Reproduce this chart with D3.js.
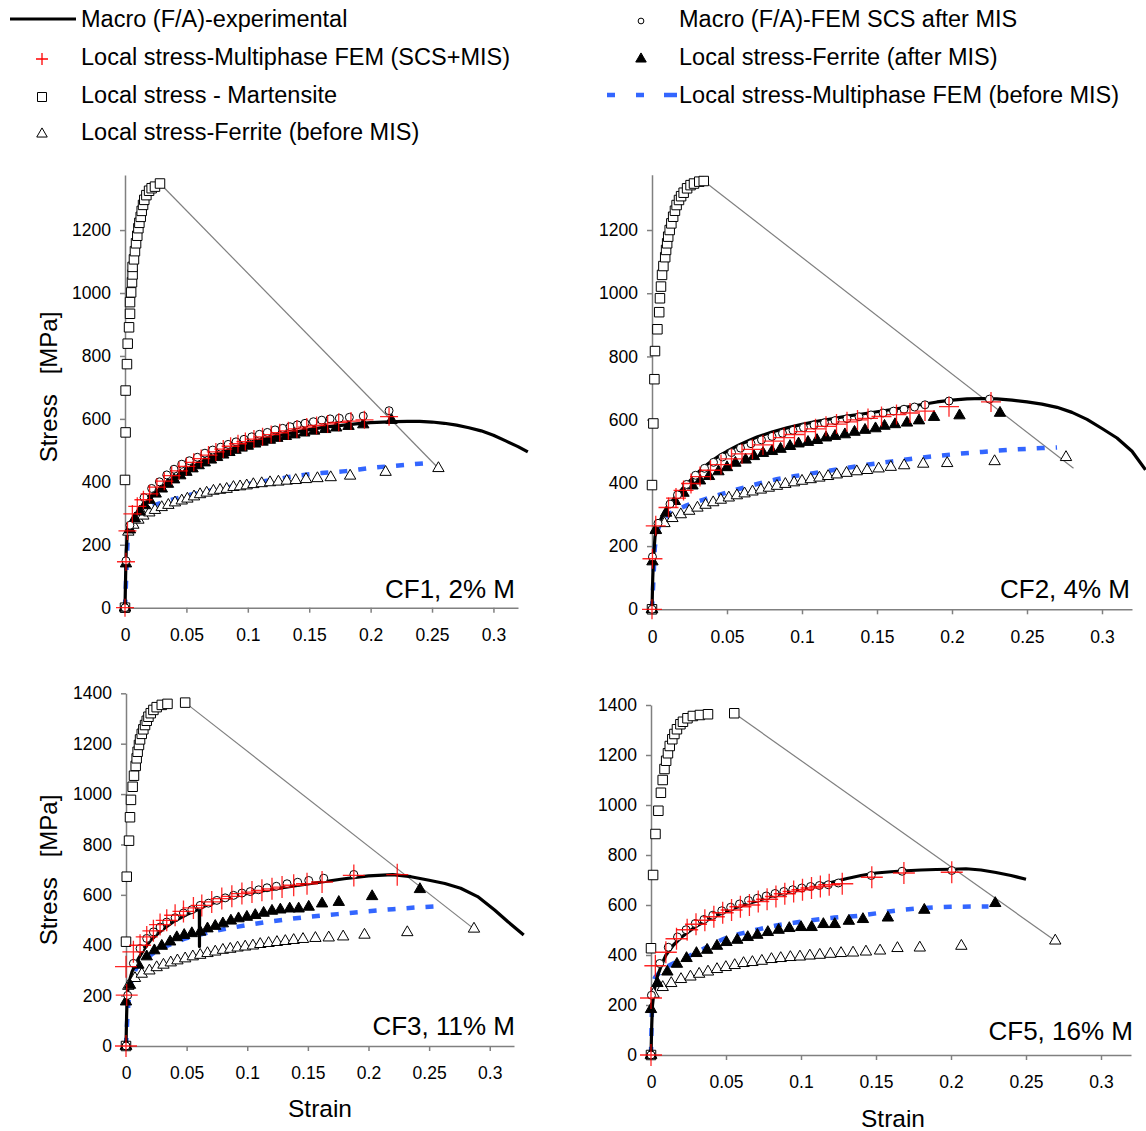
<!DOCTYPE html>
<html><head><meta charset="utf-8">
<script src="https://cdn.jsdelivr.net/npm/d3@7"></script>
<style>
body{margin:0;background:#fff}
svg{display:block}
text{font-family:"Liberation Sans",Arial,Helvetica,sans-serif;fill:#000}
</style>
</head><body>
<svg id="chart" width="1146" height="1131"></svg>
<script>
// ---------------- DATA ----------------
const panelTitles = ["CF1, 2% M", "CF2, 4% M", "CF3, 11% M", "CF5, 16% M"];
const seriesNames = [
  "Macro (F/A)-experimental",
  "Local stress-Multiphase FEM (SCS+MIS)",
  "Local stress - Martensite",
  "Local stress-Ferrite (before MIS)",
  "Macro (F/A)-FEM SCS after MIS",
  "Local stress-Ferrite (after MIS)",
  "Local stress-Multiphase FEM (before MIS)"
];
const xTickValues = [0, 0.05, 0.1, 0.15, 0.2, 0.25, 0.3];
const xTickLabels = ["0", "0.05", "0.1", "0.15", "0.2", "0.25", "0.3"];
const yTicksTop = [0, 200, 400, 600, 800, 1000, 1200];
const yTicksBottom = [0, 200, 400, 600, 800, 1000, 1200, 1400];
const xAxisTitle = "Strain";
const yAxisTitle = "Stress   [MPa]";

// ---- CF1 ----
const cf1Exp = [[0,0],[0.0005,100],[0.001,180],[0.002,240],[0.004,265],[0.008,290],[0.012,312],[0.016,330],[0.02,347],[0.03,382],[0.04,412],[0.05,437],[0.06,458],[0.07,477],[0.08,494],[0.09,508],[0.1,521],[0.11,532],[0.12,542],[0.13,551],[0.14,559],[0.15,566],[0.16,572],[0.17,577],[0.18,581],[0.19,585],[0.2,588],[0.21,590],[0.22,591],[0.23,592],[0.24,592],[0.25,590],[0.26,586],[0.27,580],[0.28,572],[0.29,562],[0.3,548],[0.31,530],[0.32,512],[0.328,495]];
const cf1Fem = [[0,0],[0.0008,149],[0.004,262],[0.0155,350],[0.0217,379],[0.028,400],[0.034,422],[0.0399,440],[0.0462,456],[0.0524,467],[0.0589,478],[0.0651,491],[0.0714,501],[0.0779,510],[0.084,519],[0.0904,527],[0.0969,535],[0.1032,543],[0.1094,551],[0.1159,557],[0.1222,565],[0.1284,570],[0.1344,575],[0.1403,581],[0.1466,586],[0.1534,591],[0.1602,596],[0.167,600],[0.1745,602],[0.1827,605],[0.194,609],[0.215,626]];
const cf1Multi = [[0,0],[0.0008,146],[0.002,244],[0.006,298],[0.01,322],[0.015,343],[0.02,362],[0.026,383],[0.032,402],[0.038,420],[0.044,435],[0.05,449],[0.056,462],[0.062,474],[0.068,485],[0.074,495],[0.08,504],[0.086,513],[0.092,521],[0.098,528],[0.105,536],[0.112,543],[0.119,550],[0.126,556],[0.133,562],[0.14,568],[0.148,574],[0.156,579],[0.165,584],[0.174,589],[0.184,593],[0.195,597],[0.215,607]];
const cf1Mart = [[0,0],[0,406],[0.0005,557],[0.0005,690],[0.0016,774],[0.0022,839],[0.0033,891],[0.0041,934],[0.0041,971],[0.005,1002],[0.0057,1034],[0.0062,1059],[0.0062,1083],[0.0073,1107],[0.0081,1133],[0.009,1158],[0.01,1182],[0.0109,1206],[0.0117,1223],[0.0128,1242],[0.0136,1261],[0.0147,1280],[0.0157,1296],[0.0174,1311],[0.0196,1325],[0.0217,1333],[0.0244,1338],[0.0285,1348]];
const cf1FerBefore = [[0,0],[0.0027,241],[0.0068,263],[0.0109,279],[0.0149,292],[0.0198,302],[0.0244,310],[0.0299,319],[0.0353,326],[0.0407,334],[0.0462,340],[0.0508,346],[0.0562,353],[0.0611,360],[0.0665,365],[0.072,371],[0.0774,374],[0.0828,377],[0.0883,383],[0.0937,385],[0.0991,388],[0.1045,392],[0.1113,395],[0.1181,398],[0.1249,400],[0.1317,403],[0.139,405],[0.1474,408],[0.1567,411],[0.1675,414],[0.1833,419],[0.2122,431],[0.2552,443]];
const cf1FerAfter = [[0,0],[0.0008,140],[0.004,248],[0.008,283],[0.012,305],[0.016,325],[0.02,342],[0.025,362],[0.03,378],[0.035,393],[0.04,407],[0.045,420],[0.05,431],[0.055,442],[0.06,452],[0.065,461],[0.07,470],[0.075,478],[0.08,486],[0.085,494],[0.09,501],[0.095,508],[0.1,514],[0.106,521],[0.112,527],[0.118,533],[0.124,539],[0.131,545],[0.138,550],[0.146,556],[0.154,562],[0.163,567],[0.172,572],[0.182,577],[0.194,582],[0.217,596]];
const cf1MultiBefore = [[0,0],[0.001,100],[0.002,200],[0.004,260],[0.008,290],[0.015,310],[0.025,327],[0.04,345],[0.06,365],[0.08,380],[0.1,393],[0.12,406],[0.14,419],[0.16,428],[0.18,434],[0.2,444],[0.22,451],[0.25,461]];
const cf1Link = [[0.0285,1348],[0.2552,443]];

// ---- CF2 ----
const cf2Exp = [[0,0],[0.0005,100],[0.001,160],[0.002,230],[0.004,268],[0.008,305],[0.012,333],[0.016,358],[0.02,380],[0.025,405],[0.03,430],[0.035,452],[0.04,470],[0.045,486],[0.05,500],[0.058,520],[0.065,535],[0.07,545],[0.08,561],[0.09,574],[0.1,585],[0.11,595],[0.12,603],[0.13,611],[0.14,618],[0.15,625],[0.16,632],[0.17,640],[0.18,648],[0.19,656],[0.2,662],[0.21,666],[0.22,667],[0.23,666],[0.24,662],[0.25,656],[0.26,649],[0.27,639],[0.28,623],[0.29,601],[0.3,572],[0.31,542],[0.32,500],[0.329,441]];
const cf2Fem = [[0,0],[0.0003,166],[0.004,272],[0.012,333],[0.017,362],[0.023,395],[0.029,424],[0.035,446],[0.041,465],[0.047,482],[0.053,496],[0.059,510],[0.066,524],[0.073,536],[0.08,547],[0.087,557],[0.094,566],[0.101,575],[0.108,583],[0.115,590],[0.122,597],[0.13,603],[0.138,609],[0.146,615],[0.154,621],[0.161,627],[0.168,633],[0.175,640],[0.182,647],[0.198,659],[0.225,665]];
const cf2Multi = [[0,0],[0.0003,160],[0.0025,264],[0.011,322],[0.016,352],[0.021,376],[0.026,398],[0.032,420],[0.039,440],[0.046,458],[0.053,476],[0.06,492],[0.067,506],[0.074,520],[0.081,532],[0.088,543],[0.095,553],[0.102,562],[0.109,571],[0.116,579],[0.123,586],[0.13,593],[0.137,599],[0.144,604],[0.153,610],[0.163,616],[0.172,621],[0.182,627],[0.198,641],[0.226,656]];
const cf2Mart = [[0,0],[0,393],[0.0009,588],[0.0016,728],[0.002,817],[0.0036,886],[0.0048,940],[0.0053,984],[0.006,1021],[0.0067,1058],[0.0076,1086],[0.0088,1114],[0.0094,1137],[0.0101,1158],[0.0108,1179],[0.0118,1200],[0.0129,1221],[0.0141,1242],[0.0153,1261],[0.0164,1279],[0.018,1295],[0.0194,1307],[0.0211,1318],[0.0234,1332],[0.0257,1342],[0.028,1347],[0.0315,1353],[0.0345,1355]];
const cf2FerBefore = [[0,0],[0.0025,251],[0.0083,272],[0.0136,288],[0.0192,300],[0.0248,311],[0.0303,321],[0.0357,330],[0.0408,338],[0.0459,346],[0.0512,353],[0.0566,360],[0.0617,366],[0.067,372],[0.0726,378],[0.0779,384],[0.0833,390],[0.0889,396],[0.0947,401],[0.1,406],[0.1058,411],[0.1116,416],[0.1174,421],[0.1232,426],[0.1297,431],[0.1365,436],[0.1434,440],[0.1511,445],[0.1592,450],[0.1681,455],[0.1808,460],[0.1968,462],[0.2284,468],[0.276,481]];
const cf2FerAfter = [[0,0],[0.0003,151],[0.0025,250],[0.0094,305],[0.0153,342],[0.021,368],[0.027,391],[0.032,407],[0.038,421],[0.0443,436],[0.05,449],[0.0556,463],[0.0624,473],[0.068,484],[0.074,494],[0.08,500],[0.0857,507],[0.092,516],[0.0977,524],[0.104,529],[0.11,535],[0.116,543],[0.122,548],[0.1286,553],[0.135,561],[0.142,567],[0.149,572],[0.155,580],[0.162,585],[0.17,590],[0.178,597],[0.188,608],[0.205,613],[0.232,621]];
const cf2MultiBefore = [[0,0],[0.001,100],[0.002,200],[0.005,265],[0.01,295],[0.02,322],[0.035,348],[0.05,370],[0.065,390],[0.08,408],[0.1,425],[0.12,440],[0.14,455],[0.16,468],[0.18,480],[0.2,490],[0.22,498],[0.24,505],[0.26,510],[0.27,512]];
const cf2Link = [[0.0345,1355],[0.281,446]];

// ---- CF3 ----
const cf3Exp = [[0,0],[0.0005,120],[0.001,200],[0.002,245],[0.005,295],[0.01,345],[0.015,385],[0.02,418],[0.03,462],[0.04,496],[0.05,522],[0.06,543],[0.0605,546],[0.0606,395],[0.0607,548],[0.07,565],[0.08,580],[0.09,594],[0.1,606],[0.12,622],[0.14,636],[0.16,650],[0.18,664],[0.2,675],[0.22,680],[0.235,672],[0.25,658],[0.263,645],[0.276,626],[0.29,593],[0.304,540],[0.315,493],[0.328,441]];
const cf3Fem = [[0,0],[0.0014,201],[0.0061,328],[0.0116,387],[0.0171,427],[0.0226,453],[0.0281,472],[0.0336,492],[0.0405,509],[0.0474,528],[0.0543,541],[0.0612,558],[0.068,567],[0.0749,578],[0.0818,588],[0.0887,598],[0.0956,607],[0.1025,613],[0.1094,620],[0.1163,628],[0.124,634],[0.1328,644],[0.1416,650],[0.1507,657],[0.1631,666],[0.1879,681]];
const cf3Multi = [[0,0],[0.0006,202],[0,315],[0.0061,374],[0.0116,400],[0.0171,433],[0.0226,457],[0.0281,482],[0.0336,499],[0.0405,519],[0.0474,534],[0.0556,548],[0.0625,558],[0.0707,572],[0.079,585],[0.0873,594],[0.0956,605],[0.1039,611],[0.1121,618],[0.1204,624],[0.1287,631],[0.1383,638],[0.1493,644],[0.1617,651],[0.1879,677],[0.2237,680]];
const cf3Mart = [[0,0],[0,414],[0.0006,672],[0.0025,815],[0.0033,908],[0.0041,977],[0.0055,1029],[0.0066,1073],[0.008,1112],[0.0088,1142],[0.0096,1168],[0.0107,1195],[0.0116,1217],[0.013,1239],[0.0143,1257],[0.0157,1274],[0.0171,1291],[0.0185,1307],[0.0204,1321],[0.0226,1334],[0.0253,1345],[0.0295,1354],[0.0342,1358],[0.0488,1363]];
const cf3FerBefore = [[0,0],[0.0019,238],[0.0074,269],[0.013,286],[0.0193,299],[0.0253,312],[0.0309,322],[0.0369,331],[0.0424,339],[0.0488,347],[0.0551,355],[0.0612,361],[0.0672,368],[0.0736,374],[0.0799,381],[0.086,385],[0.092,390],[0.0983,394],[0.1047,398],[0.1107,404],[0.1176,408],[0.1245,412],[0.1314,416],[0.1383,420],[0.146,424],[0.1562,428],[0.1672,430],[0.1791,434],[0.1967,441],[0.232,451],[0.287,465]];
const cf3FerAfter = [[0,0],[0,176],[0.0033,242],[0.0102,322],[0.0171,355],[0.0234,379],[0.0295,397],[0.0364,414],[0.0419,431],[0.048,440],[0.0543,447],[0.0612,453],[0.0672,466],[0.0736,476],[0.0799,486],[0.0865,497],[0.0928,506],[0.0997,512],[0.1066,519],[0.1135,528],[0.1204,536],[0.1273,541],[0.135,545],[0.1424,545],[0.1507,552],[0.1617,565],[0.1755,571],[0.203,594],[0.2424,622]];
const cf3MultiBefore = [[0,0],[0.001,100],[0.003,220],[0.006,280],[0.01,320],[0.02,360],[0.03,390],[0.04,410],[0.05,428],[0.065,447],[0.08,463],[0.1,480],[0.12,495],[0.14,507],[0.16,517],[0.18,526],[0.2,535],[0.22,543],[0.24,550],[0.26,556]];
const cf3Link = [[0.0488,1363],[0.287,465]];

// ---- CF5 ----
const cf5Exp = [[0,0],[0.0005,120],[0.001,200],[0.002,255],[0.004,310],[0.007,360],[0.01,400],[0.015,440],[0.02,470],[0.03,515],[0.04,548],[0.05,575],[0.06,597],[0.07,615],[0.08,635],[0.09,650],[0.1,665],[0.11,678],[0.12,690],[0.13,705],[0.14,718],[0.15,728],[0.16,733],[0.17,737],[0.18,740],[0.19,742],[0.2,743],[0.21,745],[0.22,740],[0.23,730],[0.24,718],[0.25,703]];
const cf5Fem = [[0,0],[0.0003,239],[0.0058,366],[0.0115,431],[0.0177,472],[0.0234,501],[0.0295,526],[0.0353,542],[0.0412,559],[0.0472,577],[0.0531,591],[0.059,604],[0.065,618],[0.0709,627],[0.0768,636],[0.0827,646],[0.0886,654],[0.0945,661],[0.1005,668],[0.1064,674],[0.1123,678],[0.1182,681],[0.1249,688],[0.1468,718],[0.1674,735],[0.2005,738]];
const cf5Multi = [[0,0],[0,228],[0.0029,357],[0.0099,411],[0.017,465],[0.0241,501],[0.03,523],[0.0359,539],[0.0419,553],[0.0478,569],[0.0537,580],[0.0596,593],[0.0656,600],[0.0715,614],[0.0774,623],[0.0833,634],[0.0892,645],[0.0951,654],[0.101,661],[0.107,668],[0.1129,674],[0.1188,681],[0.1275,685],[0.1472,711],[0.1686,728],[0.2005,731]];
const cf5Mart = [[0,0],[0,427],[0.0014,720],[0.003,884],[0.0049,977],[0.0066,1049],[0.0078,1100],[0.009,1144],[0.0101,1177],[0.0113,1207],[0.0125,1236],[0.0142,1263],[0.0156,1284],[0.0173,1303],[0.0196,1323],[0.0213,1333],[0.0243,1347],[0.0279,1356],[0.0326,1360],[0.038,1363],[0.0555,1367]];
const cf5FerBefore = [[0,0],[0.0017,244],[0.0078,271],[0.0135,287],[0.02,303],[0.0263,313],[0.0321,324],[0.038,333],[0.044,343],[0.0499,351],[0.0558,359],[0.0617,367],[0.0676,371],[0.0739,376],[0.0803,383],[0.0865,387],[0.0929,391],[0.0993,393],[0.1059,397],[0.1125,400],[0.1196,404],[0.1267,407],[0.1347,409],[0.1433,413],[0.1527,417],[0.1643,427],[0.1792,429],[0.2069,436],[0.2695,457]];
const cf5FerAfter = [[0,0],[0,183],[0.0043,287],[0.0109,333],[0.0173,364],[0.0237,387],[0.0303,407],[0.0374,420],[0.044,436],[0.0503,451],[0.0575,460],[0.0645,471],[0.0709,480],[0.0779,491],[0.0851,500],[0.0922,507],[0.1,511],[0.1071,511],[0.1149,523],[0.1225,523],[0.1319,536],[0.1413,543],[0.1579,549],[0.1822,580],[0.2295,607]];
const cf5MultiBefore = [[0,0],[0.0005,150],[0.001,250],[0.002,300],[0.005,325],[0.01,350],[0.02,380],[0.03,410],[0.04,440],[0.05,468],[0.065,493],[0.08,514],[0.1,533],[0.12,548],[0.14,558],[0.16,575],[0.18,587],[0.2,593],[0.225,594]];
const cf5Link = [[0.0555,1367],[0.2695,457]];

// ---------------- LAYOUT ----------------
const svg = d3.select("#chart");
const panels = [
  {title: panelTitles[0], data: [cf1Exp, cf1Fem, cf1Multi, cf1Mart, cf1FerBefore, cf1FerAfter, cf1MultiBefore, cf1Link],
   xr: [125, 518], yr: [607.7, 175], yMax: 1375, yTicks: yTicksTop, plus: 9,
   titlePos: [515, 598], yTitle: 387, xTitle: null},
  {title: panelTitles[1], data: [cf2Exp, cf2Fem, cf2Multi, cf2Mart, cf2FerBefore, cf2FerAfter, cf2MultiBefore, cf2Link],
   xr: [652, 1132], yr: [609.3, 174.7], yMax: 1375, yTicks: yTicksTop, plus: 10,
   titlePos: [1130, 598], yTitle: null, xTitle: null},
  {title: panelTitles[2], data: [cf3Exp, cf3Fem, cf3Multi, cf3Mart, cf3FerBefore, cf3FerAfter, cf3MultiBefore, cf3Link],
   xr: [126, 514], yr: [1046, 693.3], yMax: 1400, yTicks: yTicksBottom, plus: 11,
   titlePos: [515, 1035], yTitle: 870, xTitle: [320, 1117]},
  {title: panelTitles[3], data: [cf5Exp, cf5Fem, cf5Multi, cf5Mart, cf5FerBefore, cf5FerAfter, cf5MultiBefore, cf5Link],
   xr: [651, 1131], yr: [1055, 705], yMax: 1400, yTicks: yTicksBottom, plus: 11,
   titlePos: [1133, 1040], yTitle: null, xTitle: [893, 1127]}
];

const AXIS = "#808080";
const BLUE = "#3366ff";
const RED = "#ff0000";

const sqPath = d3.symbol().type(d3.symbolSquare).size(90)();
const triPath = d3.symbol().type(d3.symbolTriangle).size(56)();
const circPath = d3.symbol().type(d3.symbolCircle).size(50)();
const plusPath = (h, v) => `M${-h},0H${h}M0,${-v}V${v}`;

panels.forEach(p => {
  const [exp, fem, multi, mart, ferB, ferA, multiB, link] = p.data;
  const x = d3.scaleLinear().domain([0, 0.32]).range(p.xr);
  const y = d3.scaleLinear().domain([0, p.yMax]).range(p.yr);
  const g = svg.append("g");

  const ax = g.append("g").attr("transform", `translate(0,${p.yr[0]})`)
    .call(d3.axisBottom(x).tickValues(xTickValues).tickFormat((d, i) => xTickLabels[i])
      .tickSize(5).tickSizeOuter(0).tickPadding(16));
  const ay = g.append("g").attr("transform", `translate(${p.xr[0]},0)`)
    .call(d3.axisLeft(y).tickValues(p.yTicks).tickFormat(d3.format("d"))
      .tickSize(5).tickSizeOuter(0).tickPadding(9));
  [ax, ay].forEach(a => {
    a.select(".domain").attr("stroke", AXIS).attr("stroke-width", 1.5);
    a.selectAll(".tick line").attr("stroke", AXIS).attr("stroke-width", 1.5);
    a.selectAll(".tick text").attr("font-size", 17.5).attr("fill", "#000")
      .attr("font-family", '"Liberation Sans", Arial, sans-serif');
  });

  const line = d3.line().x(d => x(d[0])).y(d => y(d[1]));
  const smooth = d3.line().x(d => x(d[0])).y(d => y(d[1])).curve(d3.curveMonotoneX);

  g.append("path").attr("d", line(link)).attr("fill", "none")
    .attr("stroke", "#7f7f7f").attr("stroke-width", 1.2);

  g.append("path").attr("d", smooth(multiB)).attr("fill", "none")
    .attr("stroke", BLUE).attr("stroke-width", 4.5).attr("stroke-dasharray", "8,11");

  g.append("path").attr("d", line(exp)).attr("fill", "none")
    .attr("stroke", "#000").attr("stroke-width", 3.2).attr("stroke-linejoin", "round");

  g.selectAll(null).data(mart).join("path").attr("d", sqPath)
    .attr("transform", d => `translate(${x(d[0])},${y(d[1])})`)
    .attr("fill", "#fff").attr("stroke", "#000").attr("stroke-width", 1);

  g.selectAll(null).data(ferB).join("path").attr("d", triPath)
    .attr("transform", d => `translate(${x(d[0])},${y(d[1])})`)
    .attr("fill", "#fff").attr("stroke", "#000").attr("stroke-width", 1);

  g.selectAll(null).data(ferA).join("path").attr("d", triPath)
    .attr("transform", d => `translate(${x(d[0])},${y(d[1])})`)
    .attr("fill", "#000").attr("stroke", "#000").attr("stroke-width", 1);

  g.selectAll(null).data(fem).join("path").attr("d", circPath)
    .attr("transform", d => `translate(${x(d[0])},${y(d[1])})`)
    .attr("fill", "#fff").attr("stroke", "#000").attr("stroke-width", 1);

  g.selectAll(null).data(multi).join("path").attr("d", plusPath(p.plus, p.plus))
    .attr("transform", d => `translate(${x(d[0])},${y(d[1])})`)
    .attr("fill", "none").attr("stroke", RED).attr("stroke-width", 1.3).attr("stroke-opacity", 0.85);

  g.append("text").attr("x", p.titlePos[0]).attr("y", p.titlePos[1])
    .attr("text-anchor", "end").attr("font-size", 26).text(p.title);

  if (p.yTitle !== null) {
    g.append("text").attr("transform", `translate(57,${p.yTitle}) rotate(-90)`)
      .attr("text-anchor", "middle").attr("font-size", 24)
      .style("white-space", "pre").text(yAxisTitle);
  }
  if (p.xTitle !== null) {
    g.append("text").attr("x", p.xTitle[0]).attr("y", p.xTitle[1])
      .attr("text-anchor", "middle").attr("font-size", 24.5).text(xAxisTitle);
  }
});

// ---------------- LEGEND ----------------
const lg = svg.append("g");
const leftX = 81, rightX = 679;
const rowY = [19, 57, 95, 132];
const legText = (xx, yy, t) => lg.append("text").attr("x", xx).attr("y", yy + 8)
  .attr("font-size", 23.5).text(t);

lg.append("line").attr("x1", 10).attr("x2", 76).attr("y1", rowY[0]).attr("y2", rowY[0])
  .attr("stroke", "#000").attr("stroke-width", 3);
legText(leftX, rowY[0], seriesNames[0]);
lg.append("path").attr("d", plusPath(6, 6)).attr("transform", `translate(42,${rowY[1] + 2})`)
  .attr("stroke", RED).attr("stroke-width", 1.3).attr("fill", "none");
legText(leftX, rowY[1], seriesNames[1]);
lg.append("path").attr("d", d3.symbol().type(d3.symbolSquare).size(81)())
  .attr("transform", `translate(42,${rowY[2] + 2})`).attr("fill", "#fff").attr("stroke", "#000");
legText(leftX, rowY[2], seriesNames[2]);
lg.append("path").attr("d", d3.symbol().type(d3.symbolTriangle).size(48)())
  .attr("transform", `translate(42,${rowY[3] + 2})`)
  .attr("fill", "#fff").attr("stroke", "#000");
legText(leftX, rowY[3], seriesNames[3]);

lg.append("path").attr("d", d3.symbol().type(d3.symbolCircle).size(26)())
  .attr("transform", `translate(641,${rowY[0] + 2})`).attr("fill", "#fff").attr("stroke", "#000");
legText(rightX, rowY[0], seriesNames[4]);
lg.append("path").attr("d", d3.symbol().type(d3.symbolTriangle).size(48)())
  .attr("transform", `translate(641,${rowY[1] + 2})`)
  .attr("fill", "#000").attr("stroke", "#000");
legText(rightX, rowY[1], seriesNames[5]);
lg.append("line").attr("x1", 607).attr("x2", 677).attr("y1", rowY[2]).attr("y2", rowY[2])
  .attr("stroke", BLUE).attr("stroke-width", 4.5).attr("stroke-dasharray", "8,21,8,20,13");
legText(rightX, rowY[2], seriesNames[6]);
</script>
</body></html>
